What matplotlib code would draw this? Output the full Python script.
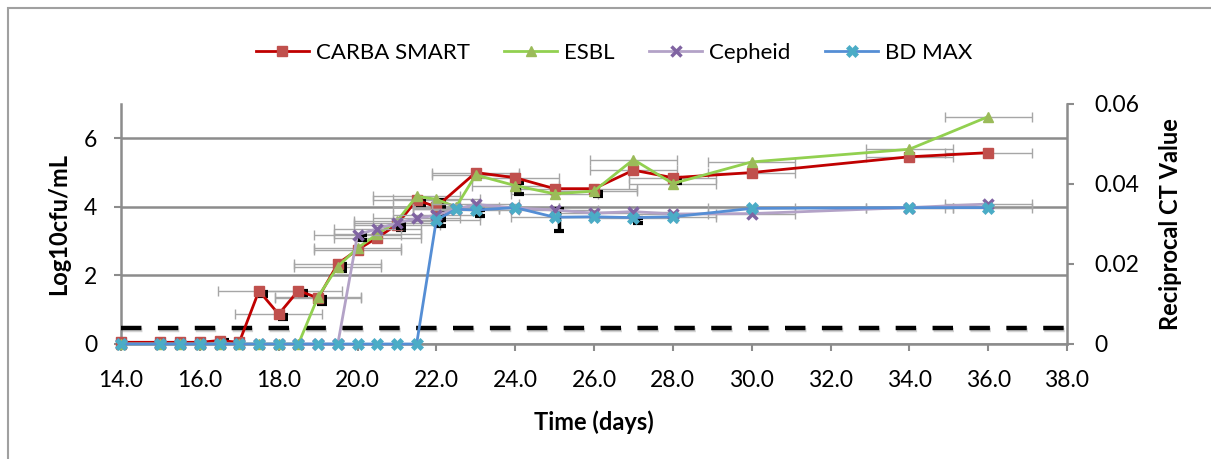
import numpy as np
import matplotlib
matplotlib.use('Agg')
import matplotlib.pyplot as plt
from matplotlib import patheffects as pe
from matplotlib.transforms import ScaledTranslation
from matplotlib.patches import Rectangle

plt.rcParams['font.family'] = ['Lato', 'DejaVu Sans']

# CARBA SMART (Log10cfu/mL, left axis)
carba_days = [14, 15, 15.5, 16, 16.5, 17, 17.5, 18, 18.5, 19, 19.5, 20, 20.5, 21, 21.5, 22,
              23, 24, 25, 26, 27, 28, 30, 34, 36]
carba_vals = [0.05, 0.05, 0.05, 0.05, 0.1, 0.05, 1.55, 0.87, 1.56, 1.34, 2.34, 2.75, 3.1, 3.48, 4.2, 4.0,
              5.0, 4.85, 4.53, 4.53, 5.07, 4.85, 5.0, 5.46, 5.58]
carba_xerr = [0, 0, 0, 0, 0, 0, 1.05, 1.1, 1.1, 1.1, 1.1, 1.1, 1.1, 1.1, 1.1, 1.1,
              1.1, 1.1, 1.1, 1.1, 1.1, 1.1, 1.1, 1.1, 1.1]
carba_yerr = [0, 0, 0, 0, 0.1, 0, 0.06, 0.06, 0.06, 0.08, 0.08, 0, 0, 0.06, 0.06, 0.08,
              0, 0, 0, 0, 0, 0.06, 0, 0, 0]

# ESBL (Log10cfu/mL, left axis)
esbl_days = [14, 15, 15.5, 16, 16.5, 17, 17.5, 18, 18.5, 19, 19.5, 20, 20.5, 21, 21.5, 22, 22.5,
             23, 24, 25, 26, 27, 28, 30, 34, 36]
esbl_vals = [0, 0, 0, 0, 0, 0, 0, 0, 0, 1.38, 2.26, 2.8, 3.2, 3.58, 4.31, 4.22, 4.0,
             4.93, 4.62, 4.38, 4.46, 5.38, 4.68, 5.31, 5.68, 6.63]
esbl_xerr = [0, 0, 0, 0, 0, 0, 0, 0, 0, 1.1, 1.1, 1.1, 1.1, 1.1, 1.1, 1.1, 1.1,
             1.1, 1.1, 1.1, 1.1, 1.1, 1.1, 1.1, 1.1, 1.1]
esbl_yerr = [0, 0, 0, 0, 0, 0, 0, 0, 0, 0.06, 0.06, 0, 0, 0, 0, 0.06, 0,
             0, 0.17, 0, 0.06, 0, 0, 0, 0, 0]

# Cepheid (reciprocal CT, right axis)
cepheid_days = [14, 15, 15.5, 16, 16.5, 17, 17.5, 18, 18.5, 19, 19.5, 20, 20.5, 21, 21.5, 22, 22.5,
                23, 24, 25, 26, 27, 28, 30, 34, 36]
cepheid_vals = [0, 0, 0, 0, 0, 0, 0, 0, 0, 0, 0, 0.0273, 0.0288, 0.0302, 0.0314, 0.0322, 0.0337,
                0.0349, 0.0340, 0.0335, 0.0327, 0.0331, 0.0325, 0.0326, 0.0341, 0.0350]
cepheid_xerr = [0, 0, 0, 0, 0, 0, 0, 0, 0, 0, 0, 1.1, 1.1, 1.1, 1.1, 1.1, 1.1,
                1.1, 1.1, 1.1, 1.1, 1.1, 1.1, 1.1, 1.1, 1.1]
cepheid_yerr = [0, 0, 0, 0, 0, 0, 0, 0, 0, 0, 0, 0.0006, 0, 0.0006, 0, 0.0006, 0,
                0, 0, 0, 0, 0, 0, 0, 0, 0]

# BD MAX (reciprocal CT, right axis)
bdmax_days = [14, 15, 15.5, 16, 16.5, 17, 17.5, 18, 18.5, 19, 19.5, 20, 20.5, 21, 21.5, 22, 22.5,
              23, 24, 25, 26, 27, 28, 30, 34, 36]
bdmax_vals = [0, 0, 0, 0, 0, 0, 0, 0, 0, 0, 0, 0, 0, 0, 0, 0.0310, 0.0337,
              0.0335, 0.0341, 0.0317, 0.0318, 0.0316, 0.0318, 0.0339, 0.0341, 0.0341]
bdmax_xerr = [0, 0, 0, 0, 0, 0, 0, 0, 0, 0, 0, 0, 0, 0, 0, 1.1, 1.1,
              1.1, 1.1, 1.1, 1.1, 1.1, 1.1, 1.1, 1.1, 1.1]
bdmax_yerr = [0, 0, 0, 0, 0, 0, 0, 0, 0, 0, 0, 0, 0, 0, 0, 0.0008, 0,
              0.0008, 0, 0.0027, 0, 0.0006, 0, 0, 0, 0]

detection_limit = 0.48
x_ticks = [14, 16, 18, 20, 22, 24, 26, 28, 30, 32, 34, 36, 38]
left_ticks = [0, 2, 4, 6]
right_ticks = [0, 0.02, 0.04, 0.06]
right_labels = ['0', '0.02', '0.04', '0.06']

GRAY = '#8C8C8C'

fig = plt.figure(figsize=(12.11, 4.59), dpi=100)
ax = fig.add_axes([121 / 1211, 1 - 344 / 459, 946 / 1211, 240 / 459])
ax2 = ax.twinx()

# black y error bars look like little shadows, drawn slightly offset
shift = ScaledTranslation(3 / 72, -2 / 72, fig.dpi_scale_trans)


def draw(axis, days, vals, xerr, yerr, mcolor, lcolor, marker, ms, mew, label):
    d = np.array(days, dtype=float)
    v = np.array(vals, dtype=float)
    xe = np.array(xerr, dtype=float)
    ye = np.array(yerr, dtype=float)
    m = xe > 0
    axis.errorbar(d[m], v[m], xerr=xe[m], fmt='none', ecolor='#A6A6A6', elinewidth=1,
                  capsize=3.5, capthick=1, zorder=2)
    m = ye > 0
    axis.errorbar(d[m], v[m], yerr=ye[m], fmt='none', ecolor='black', elinewidth=2.5,
                  capsize=3.5, capthick=3, zorder=3, transform=axis.transData + shift)
    line, = axis.plot(d, v, color=lcolor, lw=2, marker=marker, ms=ms, mfc=mcolor, mec=mcolor,
                      mew=mew, label=label, zorder=4, clip_on=False)
    return line


h1 = draw(ax, carba_days, carba_vals, carba_xerr, carba_yerr, '#C0504D', '#C00000', 's', 6.5, 1,
          'CARBA SMART')
h2 = draw(ax, esbl_days, esbl_vals, esbl_xerr, esbl_yerr, '#9BBB59', '#92D050', '^', 7, 1, 'ESBL')

ax.axhline(detection_limit, color='black', lw=3.2, dashes=(4.6, 3.7), zorder=3,
           path_effects=[pe.SimpleLineShadow(offset=(0.8, -2), shadow_color='gray', alpha=0.35),
                         pe.Normal()])

h3 = draw(ax2, cepheid_days, cepheid_vals, cepheid_xerr, cepheid_yerr, '#8064A2', '#B3A2C7', 'x', 7,
          2.5, 'Cepheid')
h4 = draw(ax2, bdmax_days, bdmax_vals, bdmax_xerr, bdmax_yerr, '#4BACC6', '#558ED5', 'X', 8.5, 0.5,
          'BD MAX')

ax.set_xlim(14, 38)
ax.set_ylim(0, 7)
ax2.set_ylim(0, 0.06)

ax.set_xticks(x_ticks)
ax.set_xticklabels([f'{t:.1f}' for t in x_ticks])
ax.set_yticks(left_ticks)
ax.set_yticklabels([str(t) for t in left_ticks])
ax2.set_yticks(right_ticks)
ax2.set_yticklabels(right_labels)

ax.yaxis.grid(True, color=GRAY, lw=1.8)
ax.set_axisbelow(True)

for a in (ax, ax2):
    for s in a.spines.values():
        s.set_visible(False)
ax.spines['left'].set_visible(True)
ax.spines['bottom'].set_visible(True)
ax2.spines['right'].set_visible(True)
for s in (ax.spines['left'], ax.spines['bottom'], ax2.spines['right']):
    s.set_color(GRAY)
    s.set_linewidth(1.8)

ax.tick_params(axis='x', direction='out', length=5, width=1.5, color=GRAY, labelsize=16.5, pad=14)
ax.tick_params(axis='y', direction='out', length=5, width=1.5, color=GRAY, labelsize=16.5, pad=12)
ax2.tick_params(axis='y', direction='out', length=5, width=1.5, color=GRAY, labelsize=16.5, pad=15)

ax.set_xlabel('Time (days)', fontsize=17, fontweight='bold', labelpad=14)
ax.set_ylabel('Log10cfu/mL', fontsize=17, fontweight='bold', labelpad=10)
ax2.set_ylabel('Reciprocal CT Value', fontsize=17, fontweight='bold', labelpad=14)

fig.legend(handles=[h1, h2, h3, h4], loc='center', bbox_to_anchor=(0.507, 0.884), ncol=4,
           frameon=False, fontsize=16, handlelength=2.4, columnspacing=1.55, handletextpad=0.3)

# outer chart border
fig.patches.append(Rectangle((8 / 1211, -0.05), 1.1, 1 - 8 / 459 + 0.05, transform=fig.transFigure,
                             fill=False, edgecolor='#A0A0A0', lw=1.5))

fig.savefig('out.png', dpi=100)
